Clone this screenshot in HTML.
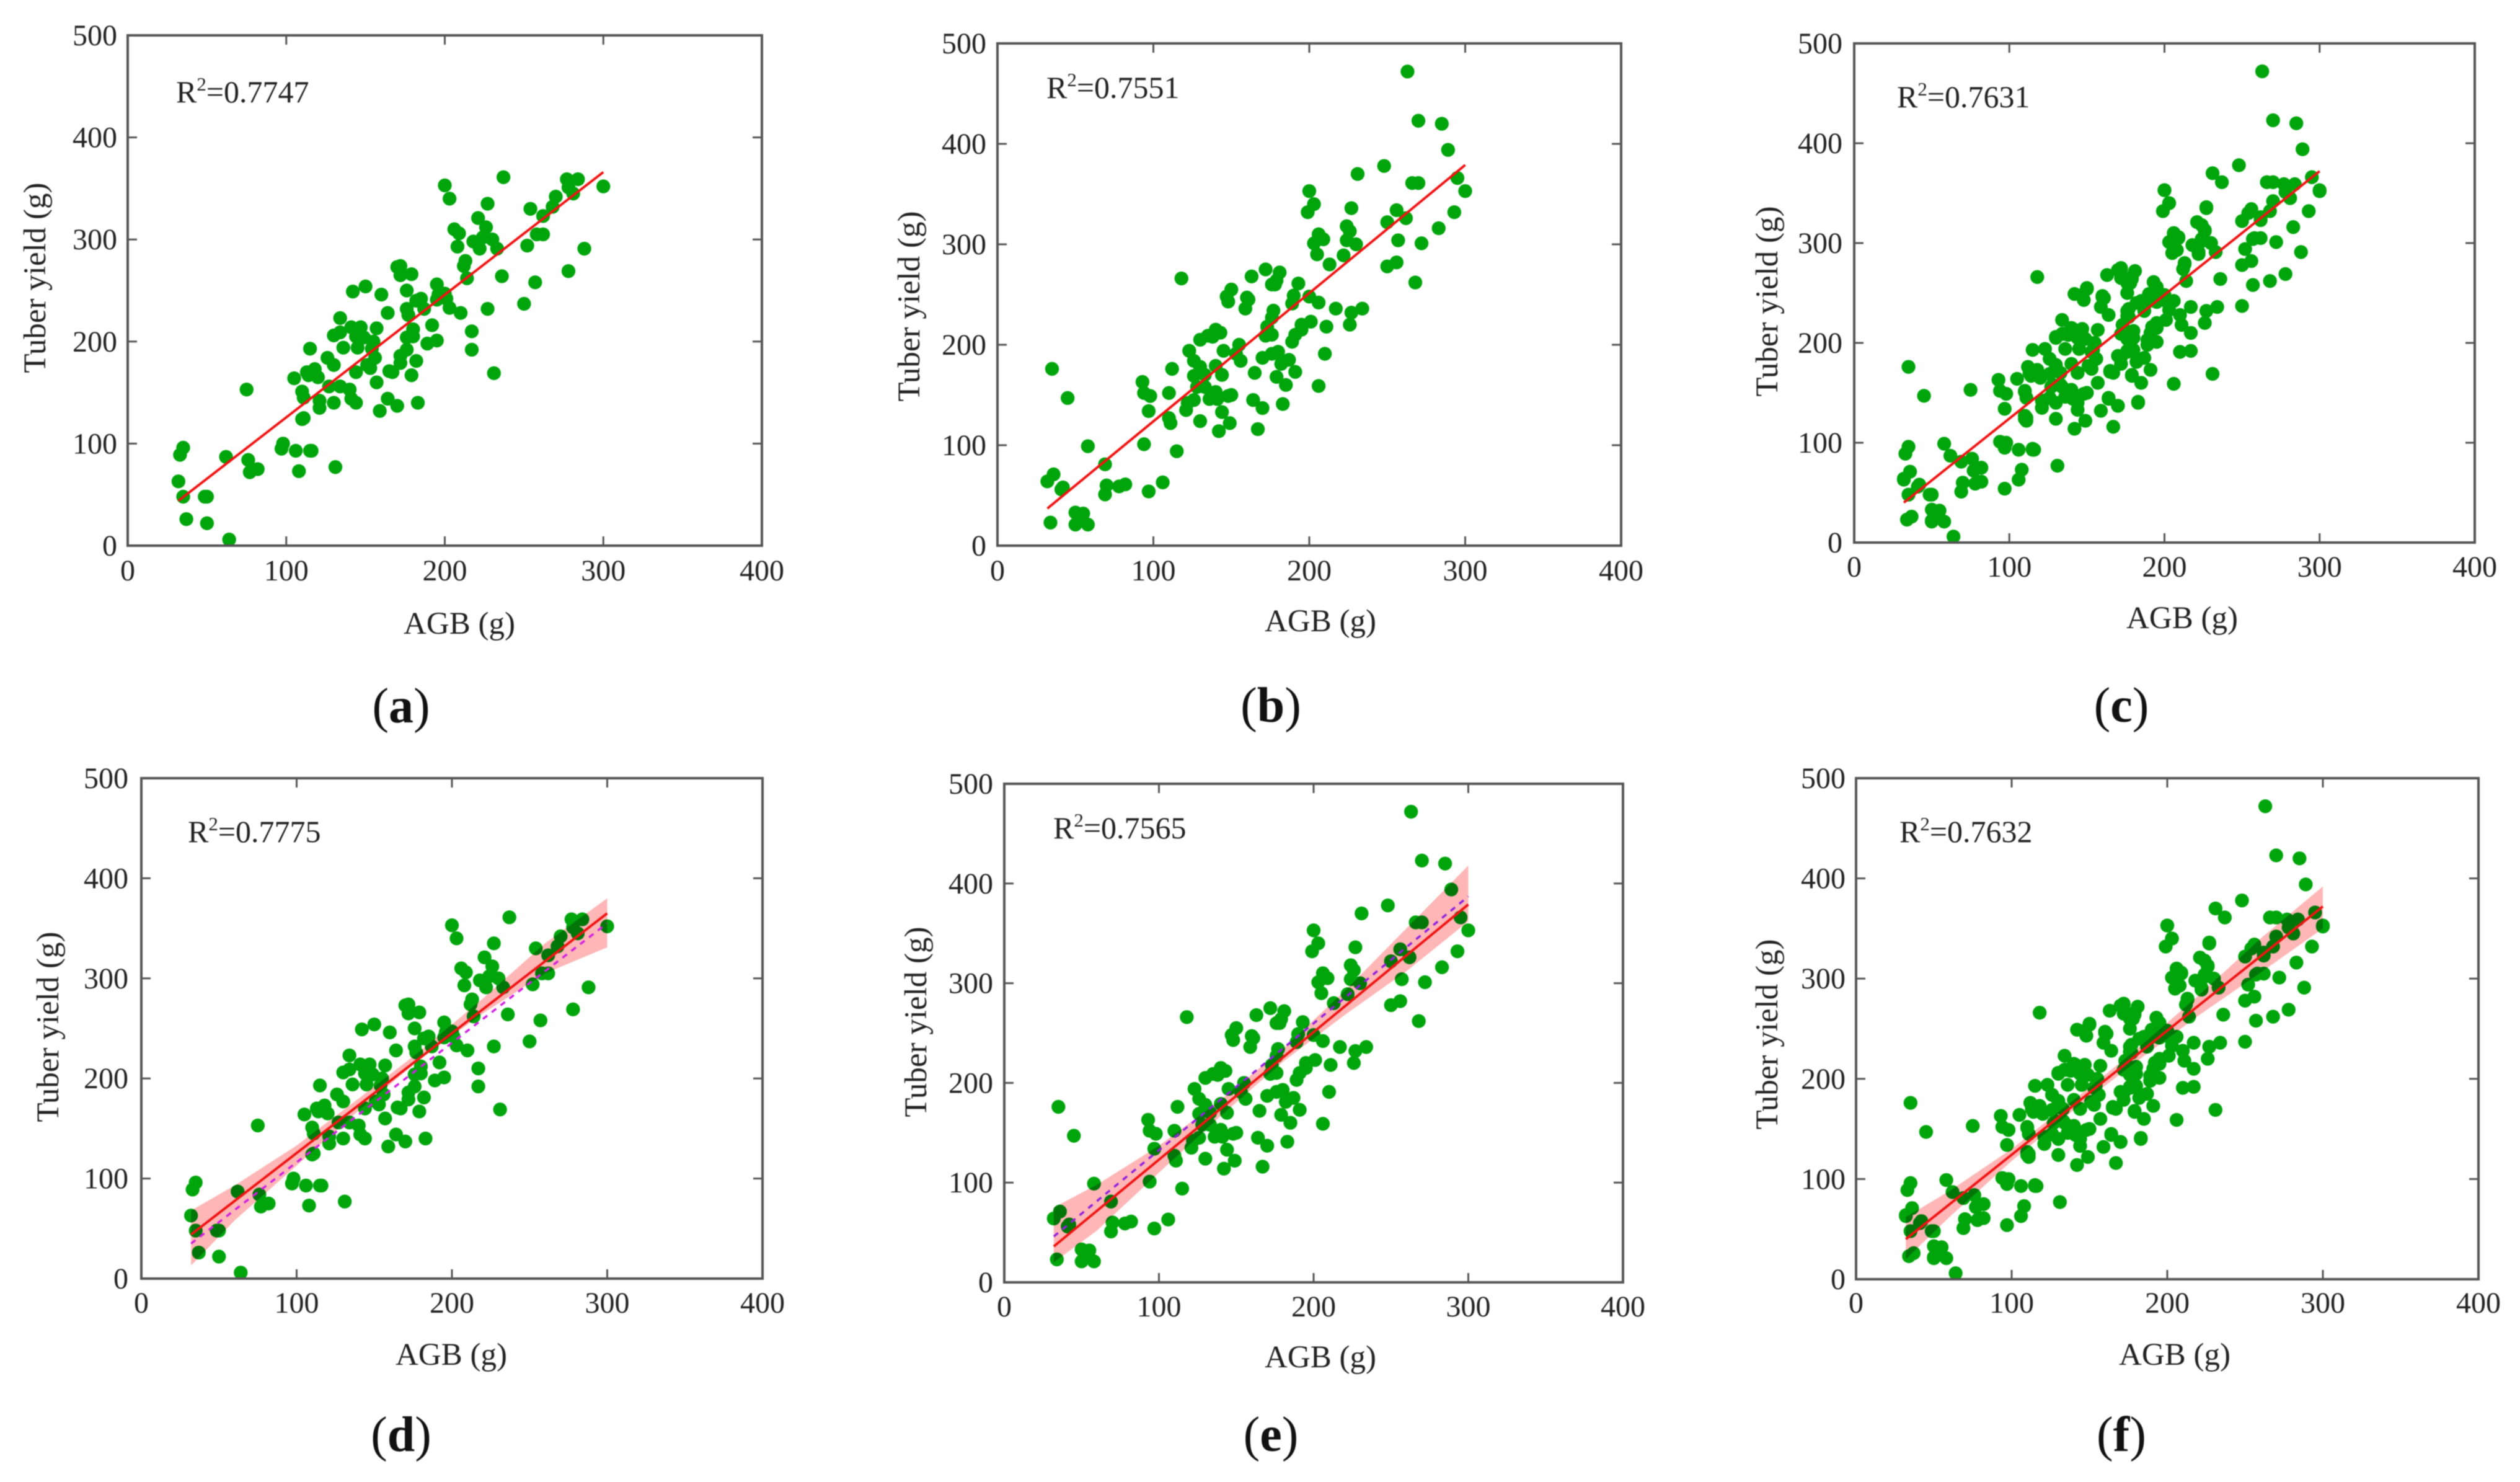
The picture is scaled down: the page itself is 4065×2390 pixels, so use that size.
<!DOCTYPE html>
<html lang="en">
<head>
<meta charset="utf-8">
<title>AGB vs tuber yield regressions</title>
<style>
html,body{margin:0;padding:0;background:#fff;width:4065px;height:2390px;overflow:hidden}
svg{display:block;filter:blur(0.9px)}
text{font-family:"Liberation Serif",serif;fill:#222}
.axt{font-size:51px}
.r2{font-size:50px}
.cap{font-size:80px;fill:#111}
</style>
</head>
<body>
<svg id="fig" xmlns="http://www.w3.org/2000/svg" width="4065" height="2390" viewBox="0 0 4065 2390">
<rect x="0" y="0" width="4065" height="2390" fill="#fff"/>

<g id="panel-a">
<text class="axt" x="741" y="1022" text-anchor="middle">AGB (g)</text>
<text class="axt" transform="translate(73 448) rotate(-90)" text-anchor="middle">Tuber yield (g)</text>
<text class="r2" x="284" y="165">R<tspan dy="-19" font-size="31">2</tspan><tspan dy="19">=0.7747</tspan></text>
<text class="cap" x="647" y="1165" text-anchor="middle">(<tspan font-weight="bold">a</tspan>)</text>
</g>

<g id="panel-b">
<text class="axt" x="2130" y="1018" text-anchor="middle">AGB (g)</text>
<text class="axt" transform="translate(1483 494) rotate(-90)" text-anchor="middle">Tuber yield (g)</text>
<text class="r2" x="1688" y="158">R<tspan dy="-19" font-size="31">2</tspan><tspan dy="19">=0.7551</tspan></text>
<text class="cap" x="2050" y="1164" text-anchor="middle">(<tspan font-weight="bold">b</tspan>)</text>
</g>

<g id="panel-c">
<text class="axt" x="3520" y="1013" text-anchor="middle">AGB (g)</text>
<text class="axt" transform="translate(2867 486) rotate(-90)" text-anchor="middle">Tuber yield (g)</text>
<text class="r2" x="3060" y="173">R<tspan dy="-19" font-size="31">2</tspan><tspan dy="19">=0.7631</tspan></text>
<text class="cap" x="3422" y="1164" text-anchor="middle">(<tspan font-weight="bold">c</tspan>)</text>
</g>

<g id="panel-d">
<text class="axt" x="728" y="2201" text-anchor="middle">AGB (g)</text>
<text class="axt" transform="translate(94 1656) rotate(-90)" text-anchor="middle">Tuber yield (g)</text>
<text class="r2" x="303" y="1358">R<tspan dy="-19" font-size="31">2</tspan><tspan dy="19">=0.7775</tspan></text>
<text class="cap" x="647" y="2340" text-anchor="middle">(<tspan font-weight="bold">d</tspan>)</text>
</g>

<g id="panel-e">
<text class="axt" x="2130" y="2205" text-anchor="middle">AGB (g)</text>
<text class="axt" transform="translate(1494 1648) rotate(-90)" text-anchor="middle">Tuber yield (g)</text>
<text class="r2" x="1699" y="1352">R<tspan dy="-19" font-size="31">2</tspan><tspan dy="19">=0.7565</tspan></text>
<text class="cap" x="2050" y="2340" text-anchor="middle">(<tspan font-weight="bold">e</tspan>)</text>
</g>

<g id="panel-f">
<text class="axt" x="3508" y="2201" text-anchor="middle">AGB (g)</text>
<text class="axt" transform="translate(2867 1668) rotate(-90)" text-anchor="middle">Tuber yield (g)</text>
<text class="r2" x="3064" y="1358">R<tspan dy="-19" font-size="31">2</tspan><tspan dy="19">=0.7632</tspan></text>
<text class="cap" x="3422" y="2340" text-anchor="middle">(<tspan font-weight="bold">f</tspan>)</text>
</g>
</svg>

<script>
var xTicks = [0, 100, 200, 300, 400];
var yTicks = [0, 100, 200, 300, 400, 500];

var agbA = [32,33,35,35,37,48.6,50,50,64,62,75,76,77,82,97,98,106,108,115,116,131,105,110,111,110,111,113,115,114,118,120,121,121,126,127,130,130,130,134,134,136,134,140,141,142,141,144,144,145,144,147,149,150,151,153,155,154,156,157,157,160,159,164,164,165,167,170,170,172,172,172,172,176,176,176,177,176,179,179,180,180,182,183,182,185,187,189,192,195,195,196,195,200,201,203,210,200,203,206,209,208,212,213,214,217,217,218,221,222,224,226,227,227,230,231,233,236,237,250,252,254,257,258,262,262,268,270,277,278,278,281,284,288,300];
var yieldA = [63,89,96,48,26,48,48,22,6,87,153,84,72,75,95,100,93,73,93,93,77,164,151,145,124,125,170,193,167,173,165,135,142,184,156,177,140,206,223,209,194,156,153,214,249,144,170,140,194,205,214,204,254,177,174,200,193,184,213,160,246,132,228,144,171,170,137,273,274,265,179,186,192,250,232,226,204,266,167,212,205,181,140,240,242,232,198,216,201,256,246,241,247,242,233,228,353,340,310,306,293,274,279,262,210,192,298,321,291,302,312,335,232,300,169,291,264,361,237,294,330,258,305,305,323,332,342,359,351,269,345,359,291,352];

var agbB = [32,36,35,34,45,41,42,50,50,55,54,58,58,69,70,69,78,82,94,97,106,93,94,98,97,110,110,111,112,115,118,121,122,123,126,126,126,128,130,130,130,133,133,135,136,138,140,140,140,141,143,142,144,144,145,147,148,148,150,150,149,153,155,156,159,160,161,163,164,165,167,170,170,172,172,173,176,176,176,177,178,179,181,179,176,180,182,183,185,187,189,189,190,191,191,193,195,195,200,201,199,200,203,203,205,206,206,206,209,210,211,213,217,222,224,224,226,227,226,227,230,231,234,248,250,250,256,256,257,262,263,266,268,270,270,272,283,285,289,293,295,300];
var yieldB = [64,71,176,23,147,56,58,33,21,32,26,21,99,81,60,51,59,61,101,54,63,163,152,149,134,152,127,122,176,94,266,135,142,194,184,169,145,158,178,124,205,170,158,209,146,208,215,179,153,146,212,114,133,170,194,248,243,149,255,150,122,191,200,184,236,247,245,268,145,172,116,187,137,275,209,218,210,260,227,234,260,264,272,168,191,193,181,141,160,185,203,241,249,173,210,261,220,215,248,223,332,353,340,301,290,159,242,310,305,191,218,280,236,289,304,318,313,336,220,232,300,370,236,378,322,278,334,282,304,326,472,361,262,361,423,301,316,420,394,332,366,353];

var agbAB = agbA.concat(agbB);
var yieldAB = yieldA.concat(yieldB);

var fitEndsX = [32, 300];
var fitA = [44, 366];
var fitB = [37, 379];
var fitC = [40, 372];
var fitD = [44, 365];
var fitE = [36, 379];
var fitF = [40, 372];
var dashedD = [35, 355];
var dashedE = [46, 387];

var bandX = [32, 60, 100, 140, 180, 220, 260, 300];
var bandDUpper = [68, 93, 133, 180, 228, 280, 335, 380];
var bandDLower = [13, 58, 113, 168, 220, 265, 305, 331];
var bandEUpper = [75, 98, 137, 183, 234, 292, 355, 418];
var bandELower = [20, 52, 110, 167, 221, 268, 312, 362];
var bandFUpper = [62, 88, 130, 179, 229, 283, 340, 392];
var bandFLower = [20, 62, 118, 169, 217, 263, 306, 350];

var NS = 'http://www.w3.org/2000/svg';

function svgEl(tag, parent) {
  var el = document.createElementNS(NS, tag);
  parent.appendChild(el);
  return el;
}

function drawPanel(id, box, xs, ys, fit, dashed, dashColor, bandUp, bandLo, tickBase, labelRight) {
  var g = document.getElementById(id);
  function sx(v) { return box.l + (box.r - box.l) * v / 400; }
  function sy(v) { return box.b - (box.b - box.t) * v / 500; }

  xs.forEach(function (v, i) {
    var c = svgEl('circle', g);
    
    
    c.setAttribute('cx', sx(v));
    c.setAttribute('cy', sy(ys[i]));
    c.setAttribute('r', 11.2);
    c.setAttribute('fill', '#00a50c');
  });

  if (bandUp) {
    var pts = [];
    bandX.forEach(function (v, i) { pts.push(sx(v) + ',' + sy(bandUp[i])); });
    for (var k = bandX.length - 1; k >= 0; k--) { pts.push(sx(bandX[k]) + ',' + sy(bandLo[k])); }
    var band = svgEl('polygon', g);
    
    
    band.setAttribute('points', pts.join(' '));
    band.setAttribute('fill', '#ffb6b6');
    band.setAttribute('style', 'mix-blend-mode:multiply');
  }

  if (dashed) {
    var d = svgEl('line', g);
    
    
    d.setAttribute('x1', sx(fitEndsX[0]));
    d.setAttribute('y1', sy(dashed[0]));
    d.setAttribute('x2', sx(fitEndsX[1]));
    d.setAttribute('y2', sy(dashed[1]));
    d.setAttribute('stroke', dashColor);
    d.setAttribute('stroke-width', 3.5);
    d.setAttribute('stroke-dasharray', '9 9');
  }

  var line = svgEl('line', g);
  
  
  line.setAttribute('x1', sx(fitEndsX[0]));
  line.setAttribute('y1', sy(fit[0]));
  line.setAttribute('x2', sx(fitEndsX[1]));
  line.setAttribute('y2', sy(fit[1]));
  line.setAttribute('stroke', '#f01414');
  line.setAttribute('stroke-width', 4);

  var frame = svgEl('rect', g);
  
  
  frame.setAttribute('x', box.l);
  frame.setAttribute('y', box.t);
  frame.setAttribute('width', box.r - box.l);
  frame.setAttribute('height', box.b - box.t);
  frame.setAttribute('fill', 'none');
  frame.setAttribute('stroke', '#555');
  frame.setAttribute('stroke-width', 4);

  xTicks.forEach(function (v) {
    var x = sx(v);
    if (v > 0 && v < 400) {
      var a = svgEl('line', g);
      
      
      a.setAttribute('x1', x);
      a.setAttribute('x2', x);
      a.setAttribute('y1', box.b);
      a.setAttribute('y2', box.b - 15);
      a.setAttribute('stroke', '#555');
      a.setAttribute('stroke-width', 3);
      var b = svgEl('line', g);
      
      
      b.setAttribute('x1', x);
      b.setAttribute('x2', x);
      b.setAttribute('y1', box.t);
      b.setAttribute('y2', box.t + 15);
      b.setAttribute('stroke', '#555');
      b.setAttribute('stroke-width', 3);
    }
    var t = svgEl('text', g);
    
    
    t.setAttribute('x', x);
    t.setAttribute('y', tickBase);
    t.setAttribute('text-anchor', 'middle');
    t.setAttribute('font-size', 48);
    t.textContent = v;
  });

  yTicks.forEach(function (v) {
    var y = sy(v);
    if (v > 0 && v < 500) {
      var a = svgEl('line', g);
      
      
      a.setAttribute('x1', box.l);
      a.setAttribute('x2', box.l + 15);
      a.setAttribute('y1', y);
      a.setAttribute('y2', y);
      a.setAttribute('stroke', '#555');
      a.setAttribute('stroke-width', 3);
      var b = svgEl('line', g);
      
      
      b.setAttribute('x1', box.r);
      b.setAttribute('x2', box.r - 15);
      b.setAttribute('y1', y);
      b.setAttribute('y2', y);
      b.setAttribute('stroke', '#555');
      b.setAttribute('stroke-width', 3);
    }
    var t = svgEl('text', g);
    
    
    t.setAttribute('x', labelRight);
    t.setAttribute('y', y + 16);
    t.setAttribute('text-anchor', 'end');
    t.setAttribute('font-size', 48);
    t.textContent = v;
  });
}

drawPanel('panel-a', {l:206, r:1229, t:57, b:880}, agbA, yieldA, fitA, null, null, null, null, 936, 189);
drawPanel('panel-b', {l:1609, r:2615, t:70, b:880}, agbB, yieldB, fitB, null, null, null, null, 936, 1591);
drawPanel('panel-c', {l:2991, r:3992, t:70, b:875}, agbAB, yieldAB, fitC, null, null, null, null, 930, 2972);
drawPanel('panel-d', {l:228, r:1230, t:1255, b:2062}, agbA, yieldA, fitD, dashedD, '#d020e0', bandDUpper, bandDLower, 2117, 207);
drawPanel('panel-e', {l:1620, r:2618, t:1264, b:2068}, agbB, yieldB, fitE, dashedE, '#9020e0', bandEUpper, bandELower, 2123, 1602);
drawPanel('panel-f', {l:2994, r:3998, t:1255, b:2063}, agbAB, yieldAB, fitF, null, null, bandFUpper, bandFLower, 2117, 2977);
</script>
</body>
</html>
